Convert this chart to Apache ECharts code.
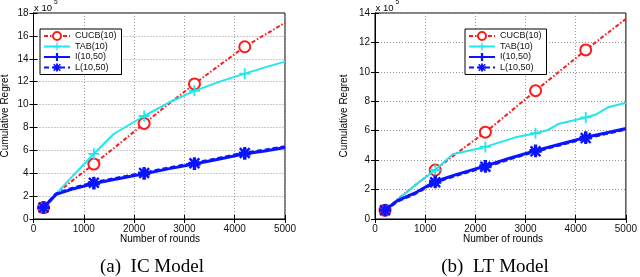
<!DOCTYPE html>
<html><head><meta charset="utf-8">
<script src="https://cdn.jsdelivr.net/npm/echarts@6/dist/echarts.min.js"></script>
<style>html,body{margin:0;padding:0;background:#fff}#c{width:640px;height:277px}</style>
</head><body><div id="c"></div>
<script>
// ---- data (values in units of 10^5) ----
const markerRounds = [200, 1200, 2200, 3200, 4200];
const xTickValues = [0, 1000, 2000, 3000, 4000, 5000];

// (a) IC Model
const icX    = [200, 450, 800, 1200, 1600, 2200, 2700, 3200, 3700, 4200, 4600, 5000];
const icCUCB = [1.0, 2.2, 3.45, 4.8, 6.2, 8.35, 10.1, 11.8, 13.45, 15.05, 16.1, 17.15];
const icTAB  = [1.0, 2.2, 3.85, 5.7, 7.45, 9.0, 10.2, 11.2, 12.0, 12.7, 13.25, 13.75];
const icI    = [1.0, 2.15, 2.65, 3.1, 3.45, 3.95, 4.4, 4.8, 5.25, 5.7, 5.95, 6.25];
const icL    = [1.0, 2.2, 2.72, 3.17, 3.52, 4.02, 4.47, 4.87, 5.32, 5.77, 6.02, 6.32];

// (b) LT Model
const ltX    = [200, 450, 800, 1200, 1600, 2200, 2700, 3200, 3700, 4200, 4600, 5000];
const ltCUCB = [0.6, 1.35, 2.3, 3.33, 4.4, 5.9, 7.3, 8.72, 10.1, 11.49, 12.55, 13.6];
const ltTabX = [200, 450, 800, 1200, 1550, 2200, 2800, 3200, 3450, 3650, 4200, 4400, 4650, 5000];
const ltTAB  = [0.6, 1.3, 2.3, 3.33, 4.4, 4.9, 5.55, 5.83, 6.05, 6.45, 6.9, 7.1, 7.6, 7.9];
const ltI    = [0.6, 1.25, 1.77, 2.55, 3.0, 3.6, 4.15, 4.65, 5.1, 5.55, 5.85, 6.15];
const ltL    = [0.6, 1.22, 1.73, 2.5, 2.95, 3.55, 4.1, 4.6, 5.05, 5.5, 5.8, 6.1];

const names = ['CUCB(10)', 'TAB(10)', 'I(10,50)', 'L(10,50)'];
const yMaxIC = 18, yMaxLT = 14;

// ---- styles ----
const RED = '#ff1a1a', CYAN = '#22e6ee', BLUE = '#0a14ff';
const plusThin = 'path://M4.2,0H5.8V4.2H10V5.8H5.8V10H4.2V5.8H0V4.2H4.2Z';
const plusThick = 'path://M3.6,0H6.4V3.6H10V6.4H6.4V10H3.6V6.4H0V3.6H3.6Z';
const aster = 'path://M3.8,0H6.2V10H3.8Z M0,3.8H10V6.2H0Z M1.6,0.2L9.8,8.4L8.4,9.8L0.2,1.6Z M8.4,0.2L9.8,1.6L1.6,9.8L0.2,8.4Z';

function pairs(xs, ys) { return xs.map((x, i) => [x, ys[i]]); }
function mk(name, xs, ys, gi, cfg) {
  return {
    name: name, type: 'line', xAxisIndex: gi * 2, yAxisIndex: gi * 2,
    data: pairs(xs, ys), symbol: cfg.symbol,
    symbolSize: v => markerRounds.indexOf(v[0]) >= 0 ? cfg.size : 0,
    lineStyle: { color: cfg.color, width: cfg.width, type: cfg.dash || 'solid' },
    itemStyle: cfg.item, silent: true, animation: false, z: cfg.z
  };
}
const S = [
  { symbol: 'emptyCircle', size: 11, color: RED, width: 2, dash: [4, 2, 1.5, 2], item: { color: RED, borderColor: RED, borderWidth: 2.5 }, z: 2 },
  { symbol: plusThin, size: 11, color: CYAN, width: 2, item: { color: CYAN }, z: 3 },
  { symbol: plusThick, size: 12, color: BLUE, width: 3, item: { color: BLUE }, z: 4 },
  { symbol: aster, size: 12, color: BLUE, width: 3, dash: [5, 3], item: { color: BLUE }, z: 5 }
];

const font = 'Liberation Sans';
const grids = [
  { left: 33.5, top: 13, width: 251.5, height: 206 },
  { left: 375, top: 13, width: 256.7, height: 206 }
];
function xAxes(gi) {
  return [
    { type: 'value', gridIndex: gi, min: 0, max: 5000, interval: 1000, position: 'bottom',
      axisLine: { lineStyle: { color: '#000', width: 1 } },
      axisTick: { inside: true, length: 4, lineStyle: { color: '#000' } },
      axisLabel: { color: '#111', fontFamily: font, fontSize: 10, margin: 5, formatter: v => String(v) },
      splitLine: { show: true, lineStyle: { color: '#999', type: [1, 2] } } },
    { type: 'value', gridIndex: gi, min: 0, max: 5000, interval: 1000, position: 'top',
      axisLine: { show: true, lineStyle: { color: '#000', width: 1 } },
      axisTick: { inside: true, length: 4, lineStyle: { color: '#000' } },
      axisLabel: { show: false }, splitLine: { show: false } }
  ];
}
function yAxes(gi, max) {
  return [
    { type: 'value', gridIndex: gi, min: 0, max: max, interval: 2, position: 'left',
      axisLine: { show: true, lineStyle: { color: '#000', width: 1 } },
      axisTick: { show: true, inside: true, length: 4, lineStyle: { color: '#000' } },
      axisLabel: { color: '#111', fontFamily: font, fontSize: 10, margin: 5 },
      splitLine: { show: true, lineStyle: { color: '#999', type: [1, 2] } } },
    { type: 'value', gridIndex: gi, min: 0, max: max, interval: 2, position: 'right',
      axisLine: { show: true, lineStyle: { color: '#000', width: 1 } },
      axisTick: { show: true, inside: true, length: 4, lineStyle: { color: '#000' } },
      axisLabel: { show: false }, splitLine: { show: false } }
  ];
}
function legend(left) {
  return {
    left: left, top: 29, orient: 'vertical', data: names,
    itemWidth: 26, itemHeight: 10, itemGap: 0.5, padding: [2, 5, 2, 3],
    backgroundColor: '#fff', borderColor: '#000', borderWidth: 1, borderRadius: 0,
    textStyle: { fontFamily: font, fontSize: 9, color: '#111', lineHeight: 10 },
    selectedMode: false
  };
}
function txt(x, y, s, size, fam, extra) {
  return Object.assign({ type: 'text', x: x, y: y, silent: true,
    style: { text: s, fontSize: size, fontFamily: fam, fill: '#000', align: 'center', verticalAlign: 'middle' } }, extra || {});
}
function ltxt(x, y, s, size) {
  return { type: 'text', x: x, y: y, silent: true,
    style: { text: s, fontSize: size, fontFamily: font, fill: '#000', align: 'left', verticalAlign: 'middle' } };
}

const series = [
  mk(names[0], icX, icCUCB, 0, S[0]), mk(names[1], icX, icTAB, 0, S[1]),
  mk(names[2], icX, icI, 0, S[2]), mk(names[3], icX, icL, 0, S[3]),
  mk(names[0], ltX, ltCUCB, 1, S[0]), mk(names[1], ltTabX, ltTAB, 1, S[1]),
  mk(names[2], ltX, ltI, 1, S[2]), mk(names[3], ltX, ltL, 1, S[3])
];

const chart = echarts.init(document.getElementById('c'), null, { renderer: 'canvas' });
chart.setOption({
  animation: false,
  grid: grids.map(g => Object.assign({ show: true, borderColor: '#000', borderWidth: 1, backgroundColor: '#fff' }, g)),
  xAxis: xAxes(0).concat(xAxes(1)),
  yAxis: yAxes(0, yMaxIC).concat(yAxes(1, yMaxLT)),
  legend: [legend(40), legend(465)],
  series: series,
  graphic: [
    ltxt(34, 8, 'x 10', 9.5), ltxt(54, 2.5, '5', 6.5),
    ltxt(375.5, 8, 'x 10', 9.5), ltxt(395.5, 2.5, '5', 6.5),
    txt(5, 116, 'Cumulative Regret', 10, font, { rotation: Math.PI / 2 }),
    txt(344, 116, 'Cumulative Regret', 10, font, { rotation: Math.PI / 2 }),
    txt(160, 239, 'Number of rounds', 10, font),
    txt(503, 239, 'Number of rounds', 10, font),
    txt(152, 267, '(a)  IC Model', 19, 'Liberation Serif'),
    txt(495, 267, '(b)  LT Model', 19, 'Liberation Serif')
  ]
});
</script></body></html>
